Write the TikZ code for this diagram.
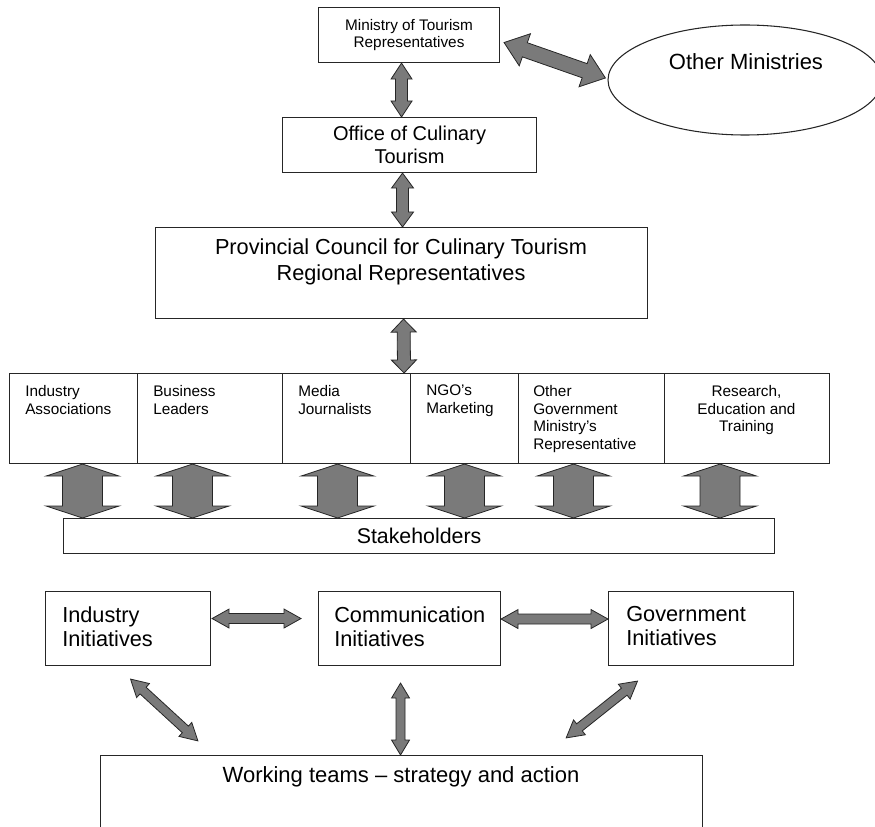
\documentclass[tikz,border=0pt]{standalone}
\usepackage{fontspec}
\setmainfont{Liberation Sans}
\usetikzlibrary{shapes.geometric,calc}

\newcommand{\fMin}{\fontsize{11.5pt}{13.1pt}\selectfont}
\newcommand{\fOff}{\fontsize{15pt}{17.3pt}\selectfont}
\newcommand{\fPro}{\fontsize{16.3pt}{19.9pt}\selectfont}
\newcommand{\fOth}{\fontsize{16.5pt}{19pt}\selectfont}
\newcommand{\fRow}{\fontsize{11.5pt}{13.3pt}\selectfont}
\newcommand{\fSta}{\fontsize{16pt}{19pt}\selectfont}
\newcommand{\fIni}{\fontsize{16.3pt}{18pt}\selectfont}
\newcommand{\fWor}{\fontsize{16.5pt}{19pt}\selectfont}

\tikzset{
  box/.style={draw=black!85, line width=0.8pt, fill=white, rectangle, inner sep=0pt, anchor=north west},
  rowtxt/.style={anchor=north west, align=left, inner sep=0pt, font=\fRow},
  initxt/.style={anchor=north west, align=left, inner sep=0pt, font=\fIni},
  arrsty/.style={fill=black!52, draw=black!85, line width=0.6pt, line join=miter},
}

% block double arrow: from, to, shaft width, head width, head length (px)
\newcommand{\blockarr}[5]{%
  \path (#1); \pgfgetlastxy{\bax}{\bay}%
  \path (#2); \pgfgetlastxy{\bbx}{\bby}%
  \pgfmathsetmacro{\bang}{atan2((\bby)-(\bay),(\bbx)-(\bax))}%
  \pgfmathsetmacro{\blen}{veclen((\bbx)-(\bax),(\bby)-(\bay))}%
  \pgfmathsetmacro{\bsw}{#3*0.375}%
  \pgfmathsetmacro{\bhw}{#4*0.375}%
  \pgfmathsetmacro{\bhl}{#5*0.75}%
  \pgfmathsetmacro{\bend}{\blen-\bhl}%
  \begin{scope}[shift={(\bax,\bay)}, rotate=\bang]
    \filldraw[arrsty] (0pt,0pt) -- (\bhl pt,\bhw pt) -- (\bhl pt,\bsw pt) -- (\bend pt,\bsw pt) -- (\bend pt,\bhw pt) -- (\blen pt,0pt) -- (\bend pt,-\bhw pt) -- (\bend pt,-\bsw pt) -- (\bhl pt,-\bsw pt) -- (\bhl pt,-\bhw pt) -- cycle;
  \end{scope}}

\begin{document}
\begin{tikzpicture}[x=0.75pt,y=-0.75pt]
\useasboundingbox (0,0) rectangle (875,827);
\clip (0,0) rectangle (875,827);

% top
\node[box, minimum width=135.75pt, minimum height=41.25pt, align=center, font=\fMin] (mt) at (318,7) {Ministry of Tourism\\Representatives};
\node[box, minimum width=190.5pt, minimum height=41.25pt, align=center, font=\fOff] (oc) at (282,117) {Office of Culinary\\Tourism};
\node[box, minimum width=369pt, minimum height=68.25pt] (pc) at (155,227) {};
\node[font=\fPro, align=center, inner sep=0pt] (pct) at (401,262) {Provincial Council for Culinary Tourism\\Regional Representatives};
\node[ellipse, draw=black!85, line width=0.8pt, fill=white, minimum width=205.5pt, minimum height=82.5pt, inner sep=0pt] (om) at (745,80) {};
\node[font=\fOth, inner sep=0pt] (omt) at (746,62) {Other Ministries};

% row of groups
\node[box, minimum width=96pt, minimum height=67.5pt] (ia) at (9,373) {};
\node[box, minimum width=108.75pt, minimum height=67.5pt] (bl) at (137,373) {};
\node[box, minimum width=96pt, minimum height=67.5pt] (mj) at (282,373) {};
\node[box, minimum width=81pt, minimum height=67.5pt] (ngo) at (410,373) {};
\node[box, minimum width=109.5pt, minimum height=67.5pt] (og) at (518,373) {};
\node[box, minimum width=123.75pt, minimum height=67.5pt] (re) at (664,373) {};
\node[rowtxt] (iat) at (25,385) {Industry\\Associations};
\node[rowtxt] (blt) at (153,385) {Business\\Leaders};
\node[rowtxt] (mjt) at (298,385) {Media\\Journalists};
\node[rowtxt] (ngot) at (426,385) {NGO’s\\Marketing};
\node[rowtxt] (ogt) at (533,385) {Other\\Government\\Ministry’s\\Representative};
\node[rowtxt, anchor=north, align=center] (ret) at (746.5,385) {Research,\\Education and\\Training};

\node[box, minimum width=533.25pt, minimum height=26.25pt, font=\fSta] (sh) at (63,518) {Stakeholders};

% initiatives
\node[box, minimum width=123.75pt, minimum height=55.5pt] (ii) at (45,591) {};
\node[box, minimum width=136.5pt, minimum height=55.5pt] (ci) at (318,591) {};
\node[box, minimum width=138.75pt, minimum height=55.5pt] (gi) at (608,591) {};
\node[initxt] (iit) at (62,606) {Industry\\Initiatives};
\node[initxt] (cit) at (334,606) {Communication\\Initiatives};
\node[initxt] (git) at (626,606) {Government\\Initiatives};

\node[box, minimum width=451.5pt, minimum height=75pt] (wt) at (100,755) {};
\node[font=\fWor, inner sep=0pt] (wtt) at (401,777) {Working teams – strategy and action};

% arrows
\blockarr{$(mt.south)+(-7.5,0)$}{$(oc.north)+(-8,0)$}{12}{21}{16}
\blockarr{$(mt.east)+(4,7.5)$}{$(om.west)+(-2,-2)$}{15}{34}{22}
\blockarr{$(oc.south)+(-7,0)$}{$(pc.north)+(1,0)$}{12}{22}{15}
\blockarr{$(pc.south)+(2,0)$}{$(mj.north east)+(-7,0)$}{13}{25}{13}

\coordinate (b1) at ($(ia.south)+(9,0)$);
\coordinate (b2) at ($(bl.south)+(-17.5,0)$);
\coordinate (b3) at ($(mj.south)+(-9,0)$);
\coordinate (b4) at ($(ngo.south)+(0,0)$);
\coordinate (b5) at ($(og.south)+(-18,0)$);
\coordinate (b6) at ($(re.south)+(-27,0)$);
\foreach \k in {1,...,6}{\blockarr{b\k}{b\k |- sh.north}{40}{73}{12}}

\blockarr{$(ii.east)+(1,-10)$}{$(ci.west)+(-17,-10)$}{10}{19}{17}
\blockarr{$(ci.east)+(0,-9.5)$}{$(gi.west)+(0,-9.5)$}{10}{19}{17}
\blockarr{$(ii.south)+(2.5,13)$}{$(wt.north west)+(98,-14)$}{9}{19}{17}
\blockarr{$(ci.south)+(-9,17)$}{$(wt.north)+(-1,0)$}{9}{18}{15}
\blockarr{$(gi.south)+(-63.5,15)$}{$(wt.north east)+(-137,-17)$}{9}{19}{17}
\end{tikzpicture}
\end{document}
